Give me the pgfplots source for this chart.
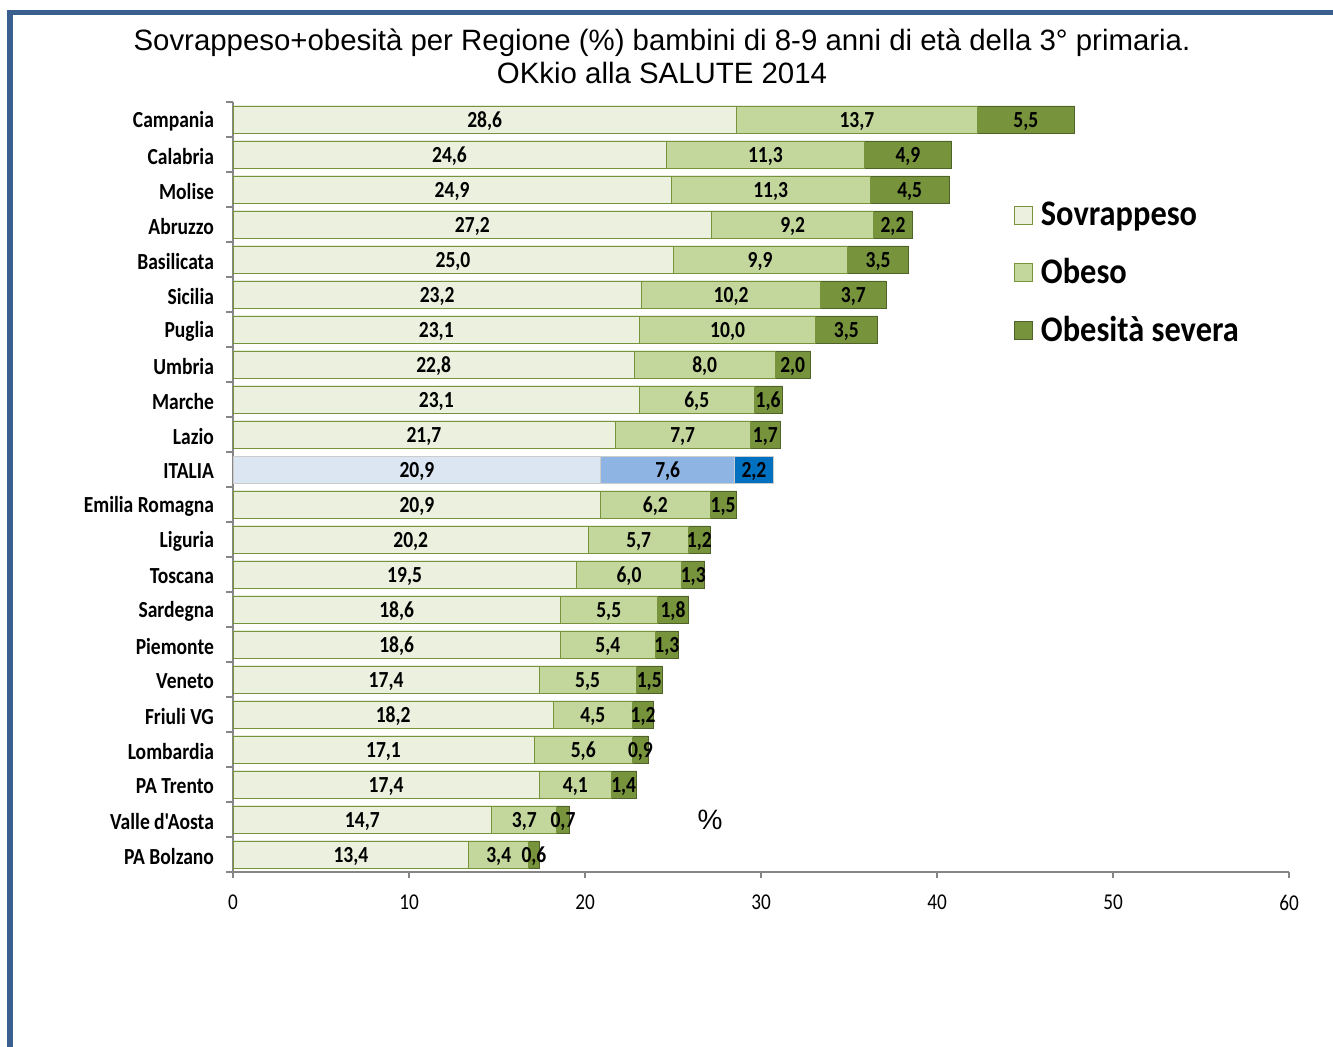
\documentclass[border=0pt]{standalone}
\usepackage{pgfplots}
\pgfplotsset{compat=1.18}
\usepackage{pgfplotstable}
\usepackage{fontspec}
\setmainfont{Carlito}
\newfontfamily\arial{Liberation Sans}
\newfontfamily\calib[FakeStretch=0.85]{Carlito}
\newfontfamily\calleg[FakeStretch=0.9]{Carlito}

\definecolor{sovra}{RGB}{235,241,222}
\definecolor{obeso}{RGB}{195,214,155}
\definecolor{sever}{RGB}{119,147,60}
\definecolor{bordo}{RGB}{119,147,60}
\definecolor{bordoscuro}{RGB}{79,98,40}
\definecolor{blu1}{RGB}{220,230,242}
\definecolor{blu2}{RGB}{142,180,227}
\definecolor{blu3}{RGB}{0,112,192}
\definecolor{cornice}{RGB}{58,95,142}
\definecolor{asse}{RGB}{134,134,134}

% y: 0 = PA Bolzano ... 21 = Campania (ITALIA = 11, a parte)
\pgfplotstableread{
y s o so
0 13.4 3.4 0.6
1 14.7 3.7 0.7
2 17.4 4.1 1.4
3 17.1 5.6 0.9
4 18.2 4.5 1.2
5 17.4 5.5 1.5
6 18.6 5.4 1.3
7 18.6 5.5 1.8
8 19.5 6.0 1.3
9 20.2 5.7 1.2
10 20.9 6.2 1.5
12 21.7 7.7 1.7
13 23.1 6.5 1.6
14 22.8 8.0 2.0
15 23.1 10.0 3.5
16 23.2 10.2 3.7
17 25.0 9.9 3.5
18 27.2 9.2 2.2
19 24.9 11.3 4.5
20 24.6 11.3 4.9
21 28.6 13.7 5.5
}\regioni

\pgfplotstableread{
y s o so
11 20.9 7.6 2.2
}\italia

\pgfplotsset{
  barra/.style={xbar, bar shift=0pt, bar width=13.5pt},
  sq/.style={legend image code/.code={\draw[##1] (0pt,-4.5pt) rectangle (9pt,4.5pt);}},
  lab/.style={draw=none, mark=none, forget plot, point meta=#1,
    nodes near coords={\pgfmathprintnumber[use comma,fixed,fixed zerofill,precision=1]{\pgfplotspointmeta}},
    every node near coord/.append style={anchor=center, inner sep=0pt, text=black,
      yshift=-1pt, font=\calib\bfseries\fontsize{11.5}{13}\selectfont}},
}

\begin{document}
\begin{tikzpicture}
\path[fill=white, use as bounding box] (0,0) rectangle (666.5pt,523.5pt);
\draw[cornice, line width=2.6pt] (5pt,0) -- (5pt,518.5pt);
\draw[cornice, line width=2.6pt] (3.7pt,517.25pt) -- (666.5pt,517.25pt);

\node[font=\arial\fontsize{14.7}{17}\selectfont, anchor=base] at (331pt,498pt)
  {Sovrappeso+obesità per Regione (\%) bambini di 8-9 anni di età della 3° primaria.};
\node[font=\arial\fontsize{14.7}{17}\selectfont, anchor=base] at (331pt,481.5pt)
  {OKkio alla SALUTE 2014};

\begin{axis}[
  at={(116.5pt,87.5pt)}, anchor=south west,
  scale only axis, width=528pt, height=385pt,
  xmin=0, xmax=60, ymin=-0.5, ymax=21.5,
  axis lines*=left,
  axis line style={asse, line width=0.6pt},
  tick align=outside,
  xtick={0,10,...,60},
  ytick={0,...,21},
  yticklabels={PA Bolzano, Valle d'Aosta, PA Trento, Lombardia, Friuli VG, Veneto,
    Piemonte, Sardegna, Toscana, Liguria, Emilia Romagna, ITALIA, Lazio, Marche,
    Umbria, Puglia, Sicilia, Basilicata, Abruzzo, Molise, Calabria, Campania},
  minor ytick={-0.5,0.5,...,21.5},
  major tick length=3pt, minor tick length=3.5pt,
  major y tick style={draw=none},
  minor y tick style={asse, line width=0.6pt},
  major x tick style={asse, line width=0.6pt},
  xticklabel style={font=\calib\fontsize{11.3}{13}\selectfont, yshift=-5pt},
  yticklabel style={font=\calib\bfseries\fontsize{11.5}{13}\selectfont, xshift=-3pt, yshift=-1pt},
  /pgf/number format/assume math mode=true,
  clip=false,
  legend style={at={(0.7393,0.876)}, anchor=north west, draw=none, fill=none,
    font=\calleg\bfseries\fontsize{18}{21}\selectfont, row sep=11pt, inner sep=0pt,
    /tikz/every odd column/.append style={column sep=2pt}},
  legend cell align=left,
  reverse legend,
]
\addplot[barra, fill=sever, draw=bordoscuro, sq]
  table[x expr=\thisrow{s}+\thisrow{o}+\thisrow{so}, y=y]{\regioni};
\addlegendentry{Obesità severa}
\addplot[barra, fill=obeso, draw=bordo, sq]
  table[x expr=\thisrow{s}+\thisrow{o}, y=y]{\regioni};
\addlegendentry{Obeso}
\addplot[barra, fill=sovra, draw=bordo, sq]
  table[x=s, y=y]{\regioni};
\addlegendentry{Sovrappeso}

\addplot[barra, fill=blu3, draw=gray!40, forget plot]
  table[x expr=\thisrow{s}+\thisrow{o}+\thisrow{so}, y=y]{\italia};
\addplot[barra, fill=blu2, draw=gray!40, forget plot]
  table[x expr=\thisrow{s}+\thisrow{o}, y=y]{\italia};
\addplot[barra, fill=blu1, draw=gray!40, forget plot]
  table[x=s, y=y]{\italia};

\addplot[lab=\thisrow{s}] table[x expr=\thisrow{s}/2, y=y]{\regioni};
\addplot[lab=\thisrow{o}] table[x expr=\thisrow{s}+\thisrow{o}/2, y=y]{\regioni};
\addplot[lab=\thisrow{so}] table[x expr=\thisrow{s}+\thisrow{o}+\thisrow{so}/2, y=y]{\regioni};
\addplot[lab=\thisrow{s}] table[x expr=\thisrow{s}/2, y=y]{\italia};
\addplot[lab=\thisrow{o}] table[x expr=\thisrow{s}+\thisrow{o}/2, y=y]{\italia};
\addplot[lab=\thisrow{so}] table[x expr=\thisrow{s}+\thisrow{o}+\thisrow{so}/2, y=y]{\italia};

\node[font=\arial\fontsize{14}{16}\selectfont] at (axis cs:27.1,1) {\%};
\end{axis}
\end{tikzpicture}
\end{document}
